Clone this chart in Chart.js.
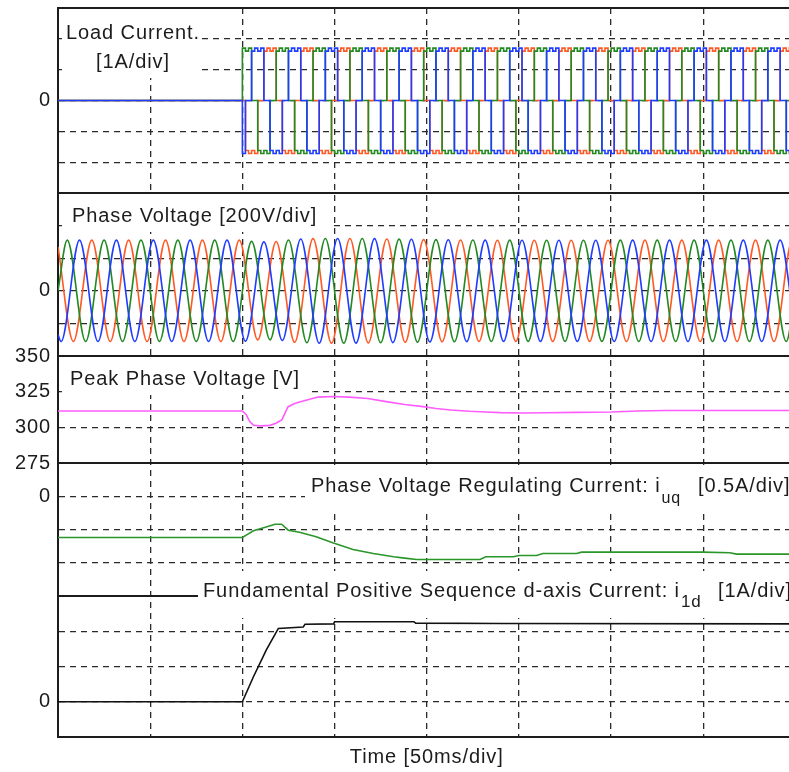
<!DOCTYPE html>
<html>
<head>
<meta charset="utf-8">
<script src="https://cdn.jsdelivr.net/npm/chart.js@4.4.1/dist/chart.umd.min.js"></script>
<style>
  html, body { margin: 0; padding: 0; background: #fff; overflow: hidden; }
  canvas { display: block; }
</style>
</head>
<body>
<canvas id="scope" width="800" height="772"></canvas>
<script>
const FONT = '"Liberation Sans", Arial, Helvetica, sans-serif';
const INK = '#1c1c1c';
const BLUE = '#1f3cff', GREEN = '#238a23', ORANGE = '#ff5a26';
const MAGENTA = '#ff5cff', REG_GREEN = '#2a962a';

// evenly spaced sample instants in ms
const instants = (start, step, count) =>
  Array.from({length: count}, (_, k) => Math.round((start + k * step) * 100) / 100);

// ---- load current [A]: one value per 30 degree step, load switched on at 100 ms
const loadTime = [0, 100, ...instants(101.67, 5 / 3, 180)];
const loadCurA = [
  0, 1.7,
  1.6, 1.7, 0, 0, -1.62, -1.72, -1.62, -1.72, 0, 0, 1.6, 1.7,
  1.6, 1.7, 0, 0, -1.62, -1.72, -1.62, -1.72, 0, 0, 1.6, 1.7,
  1.6, 1.7, 0, 0, -1.62, -1.72, -1.62, -1.72, 0, 0, 1.6, 1.7,
  1.6, 1.7, 0, 0, -1.62, -1.72, -1.62, -1.72, 0, 0, 1.6, 1.7,
  1.6, 1.7, 0, 0, -1.62, -1.72, -1.62, -1.72, 0, 0, 1.6, 1.7,
  1.6, 1.7, 0, 0, -1.62, -1.72, -1.62, -1.72, 0, 0, 1.6, 1.7,
  1.6, 1.7, 0, 0, -1.62, -1.72, -1.62, -1.72, 0, 0, 1.6, 1.7,
  1.6, 1.7, 0, 0, -1.62, -1.72, -1.62, -1.72, 0, 0, 1.6, 1.7,
  1.6, 1.7, 0, 0, -1.62, -1.72, -1.62, -1.72, 0, 0, 1.6, 1.7,
  1.6, 1.7, 0, 0, -1.62, -1.72, -1.62, -1.72, 0, 0, 1.6, 1.7,
  1.6, 1.7, 0, 0, -1.62, -1.72, -1.62, -1.72, 0, 0, 1.6, 1.7,
  1.6, 1.7, 0, 0, -1.62, -1.72, -1.62, -1.72, 0, 0, 1.6, 1.7,
  1.6, 1.7, 0, 0, -1.62, -1.72, -1.62, -1.72, 0, 0, 1.6, 1.7,
  1.6, 1.7, 0, 0, -1.62, -1.72, -1.62, -1.72, 0, 0, 1.6, 1.7,
  1.6, 1.7, 0, 0, -1.62, -1.72, -1.62, -1.72, 0, 0, 1.6, 1.7
];
const loadCurB = [
  0, -1.72,
  0, 0, 1.6, 1.7, 1.6, 1.7, 0, 0, -1.62, -1.72, -1.62, -1.72,
  0, 0, 1.6, 1.7, 1.6, 1.7, 0, 0, -1.62, -1.72, -1.62, -1.72,
  0, 0, 1.6, 1.7, 1.6, 1.7, 0, 0, -1.62, -1.72, -1.62, -1.72,
  0, 0, 1.6, 1.7, 1.6, 1.7, 0, 0, -1.62, -1.72, -1.62, -1.72,
  0, 0, 1.6, 1.7, 1.6, 1.7, 0, 0, -1.62, -1.72, -1.62, -1.72,
  0, 0, 1.6, 1.7, 1.6, 1.7, 0, 0, -1.62, -1.72, -1.62, -1.72,
  0, 0, 1.6, 1.7, 1.6, 1.7, 0, 0, -1.62, -1.72, -1.62, -1.72,
  0, 0, 1.6, 1.7, 1.6, 1.7, 0, 0, -1.62, -1.72, -1.62, -1.72,
  0, 0, 1.6, 1.7, 1.6, 1.7, 0, 0, -1.62, -1.72, -1.62, -1.72,
  0, 0, 1.6, 1.7, 1.6, 1.7, 0, 0, -1.62, -1.72, -1.62, -1.72,
  0, 0, 1.6, 1.7, 1.6, 1.7, 0, 0, -1.62, -1.72, -1.62, -1.72,
  0, 0, 1.6, 1.7, 1.6, 1.7, 0, 0, -1.62, -1.72, -1.62, -1.72,
  0, 0, 1.6, 1.7, 1.6, 1.7, 0, 0, -1.62, -1.72, -1.62, -1.72,
  0, 0, 1.6, 1.7, 1.6, 1.7, 0, 0, -1.62, -1.72, -1.62, -1.72,
  0, 0, 1.6, 1.7, 1.6, 1.7, 0, 0, -1.62, -1.72, -1.62, -1.72
];
const loadCurC = [
  0, 0,
  -1.62, -1.72, -1.62, -1.72, 0, 0, 1.6, 1.7, 1.6, 1.7, 0, 0,
  -1.62, -1.72, -1.62, -1.72, 0, 0, 1.6, 1.7, 1.6, 1.7, 0, 0,
  -1.62, -1.72, -1.62, -1.72, 0, 0, 1.6, 1.7, 1.6, 1.7, 0, 0,
  -1.62, -1.72, -1.62, -1.72, 0, 0, 1.6, 1.7, 1.6, 1.7, 0, 0,
  -1.62, -1.72, -1.62, -1.72, 0, 0, 1.6, 1.7, 1.6, 1.7, 0, 0,
  -1.62, -1.72, -1.62, -1.72, 0, 0, 1.6, 1.7, 1.6, 1.7, 0, 0,
  -1.62, -1.72, -1.62, -1.72, 0, 0, 1.6, 1.7, 1.6, 1.7, 0, 0,
  -1.62, -1.72, -1.62, -1.72, 0, 0, 1.6, 1.7, 1.6, 1.7, 0, 0,
  -1.62, -1.72, -1.62, -1.72, 0, 0, 1.6, 1.7, 1.6, 1.7, 0, 0,
  -1.62, -1.72, -1.62, -1.72, 0, 0, 1.6, 1.7, 1.6, 1.7, 0, 0,
  -1.62, -1.72, -1.62, -1.72, 0, 0, 1.6, 1.7, 1.6, 1.7, 0, 0,
  -1.62, -1.72, -1.62, -1.72, 0, 0, 1.6, 1.7, 1.6, 1.7, 0, 0,
  -1.62, -1.72, -1.62, -1.72, 0, 0, 1.6, 1.7, 1.6, 1.7, 0, 0,
  -1.62, -1.72, -1.62, -1.72, 0, 0, 1.6, 1.7, 1.6, 1.7, 0, 0,
  -1.62, -1.72, -1.62, -1.72, 0, 0, 1.6, 1.7, 1.6, 1.7, 0, 0
];

// ---- phase voltage [V]: crest values of each half cycle, 50 Hz
const voltTimeA = [0, ...instants(5, 10, 40), 400];
const voltTimeB = [0, ...instants(1.67, 10, 40), 400];
const voltTimeC = [0, ...instants(8.33, 10, 40), 400];
const voltA = [
  0,
  311, -311, 311, -311, 311, -311, 311, -311, 311, -311,
  303, -301, 312, -319, 321, -321, 321, -319, 317, -315,
  314, -313, 312, -311, 311, -310, 310, -310, 310, -310,
  311, -311, 311, -311, 311, -311, 311, -311, 311, -311,
  0
];
const voltB = [
  -269,
  -311, 311, -311, 311, -311, 311, -311, 311, -311, 311,
  -309, 300, -305, 318, -321, 321, -321, 320, -318, 316,
  -314, 313, -312, 311, -310, 310, -310, 310, -310, 310,
  -311, 311, -311, 311, -311, 311, -311, 311, -311, 311,
  -269
];
const voltC = [
  269,
  -311, 311, -311, 311, -311, 311, -311, 311, -311, 311,
  -301, 302, -316, 320, -321, 321, -320, 318, -316, 314,
  -313, 312, -311, 310, -310, 310, -310, 310, -310, 310,
  -311, 311, -311, 311, -311, 311, -311, 311, -311, 311,
  269
];

// ---- peak phase voltage [V]
const peakTime = [0, 100, 102, 104, 106, 110, 115, 118.5, 121.5, 123, 124.7, 128, 131, 136, 141,
                  149, 158, 168, 178, 188, 198, 205, 213, 223, 232, 240, 252, 265, 281, 300, 314, 330, 360, 400];
const peakVolt = [311.5, 311.5, 309, 304, 301.5, 301, 301.4, 303, 305.4, 309.6, 314.3, 316.5, 317.8, 319.5, 321.2,
                  321.6, 321.2, 320.2, 318, 316, 314.5, 313.2, 312.2, 311.3, 310.8, 310.3, 310, 310.2, 310.5, 310.8, 311.5, 311.8, 311.8, 311.8];

// ---- phase voltage regulating current i_uq [A]
const iuqTime = [0, 100, 103, 106, 112, 117.7, 121.3, 124.9, 131, 140, 149, 160, 171, 182, 188, 194.5,
                 228.9, 232, 247, 250, 259.6, 263, 281.3, 284, 349.8, 364.4, 368, 400];
const iuqVal = [-0.62, -0.62, -0.57, -0.52, -0.47, -0.42, -0.42, -0.51, -0.54, -0.61, -0.70, -0.80, -0.86, -0.91, -0.93, -0.95,
                -0.95, -0.91, -0.91, -0.89, -0.89, -0.86, -0.86, -0.84, -0.84, -0.85, -0.87, -0.87];

// ---- fundamental positive sequence d-axis current i_1d [A]
const i1dTime = [0, 100, 106, 113, 119.5, 133, 134, 149.5, 150, 193, 194, 240, 400];
const i1dVal = [0, 0, 0.71, 1.47, 2.08, 2.12, 2.2, 2.21, 2.27, 2.27, 2.23, 2.22, 2.21];

// tick labels shown on each panel
const zeroOnly = [0];
const peakTicks = [275, 300, 325, 350];

const PANELS = ['yLoad', 'yPhase', 'yPeak', 'yReg', 'yD'];

const pts = (t, v) => t.map((x, i) => ({x, y: v[i]}));
const trace = (axis, t, v, color, extra) => Object.assign({
  data: pts(t, v), yAxisID: axis, borderColor: color, borderWidth: 1.6,
  pointRadius: 0, fill: false, tension: 0
}, extra || {});

function panelAxis(min, max, step, labelled, order, height) {
  return {
    type: 'linear', position: 'left', stack: 'panels', stackWeight: height, weight: order,
    min: min, max: max,
    ticks: {
      stepSize: step, autoSkip: false, padding: 7, color: INK,
      font: {family: FONT, size: 20},
      callback: v => labelled.includes(v) ? String(v) : ''
    },
    grid: {color: '#2a2a2a', lineWidth: 1.3, drawTicks: false},
    border: {display: true, color: INK, width: 2, dash: [6, 5]},
    afterFit(s) { s.width = 58; s.paddingTop = 0; s.paddingBottom = 0; }
  };
}

// white-backed captions, offsets from the plot's left edge and the panel's top
const captions = [
  {axis: 'yLoad', box: [4, 1, 138, 69], parts: [
    {text: 'Load Current.', x: 75, y: 31, align: 'center'},
    {text: '[1A/div]', x: 75, y: 60, align: 'center'}]},
  {axis: 'yPhase', box: [4, 2, 272, 37], parts: [
    {text: 'Phase Voltage [200V/div]', x: 14, y: 29}]},
  {axis: 'yPeak', box: [4, 2, 250, 37], parts: [
    {text: 'Peak Phase Voltage [V]', x: 12, y: 29}]},
  {axis: 'yReg', box: [247, 2, 500, 45], parts: [
    {text: 'Phase Voltage Regulating Current: i', x: 253, y: 29},
    {text: 'uq', x: 'flow', y: 40, size: 16},
    {text: '[0.5A/div]', x: 640, y: 29}]},
  {axis: 'yD', box: [140, -25, 660, 47], parts: [
    {text: 'Fundamental Positive Sequence d-axis Current: i', x: 145, y: 1},
    {text: '1d', x: 'flow', y: 11, size: 17},
    {text: '[1A/div]', x: 660, y: 1}]}
];

const panelDecor = {
  id: 'panelDecor',
  beforeDraw(chart) {
    chart.ctx.letterSpacing = '0.9px';
  },
  beforeDatasetsDraw(chart) {
    const {ctx, chartArea: area, scales} = chart;
    ctx.save();
    ctx.setLineDash([]);
    ctx.strokeStyle = INK;
    ctx.lineWidth = 2;
    ctx.beginPath();
    PANELS.forEach(id => {
      const y = Math.round(scales[id].top);
      ctx.moveTo(area.left, y);
      ctx.lineTo(area.right, y);
    });
    ctx.stroke();

    captions.forEach(c => {
      const top = scales[c.axis].top;
      const left = area.left;
      ctx.fillStyle = '#fff';
      ctx.fillRect(left + c.box[0], top + c.box[1], c.box[2], c.box[3]);
      ctx.fillStyle = INK;
      ctx.textBaseline = 'alphabetic';
      let flowX = left;
      c.parts.forEach(p => {
        ctx.font = (p.size || 20) + 'px ' + FONT;
        ctx.textAlign = p.align || 'left';
        const x = p.x === 'flow' ? flowX : left + p.x;
        ctx.fillText(p.text, x, top + p.y);
        flowX = x + ctx.measureText(p.text).width + 1;
      });
    });
    ctx.restore();
  }
};

new Chart(document.getElementById('scope'), {
  type: 'line',
  data: {
    datasets: [
      trace('yLoad', loadTime, loadCurB, BLUE, {stepped: true}),
      trace('yLoad', loadTime, loadCurA, GREEN, {stepped: true}),
      trace('yLoad', loadTime, loadCurC, ORANGE, {stepped: true}),
      trace('yPhase', voltTimeB, voltB, BLUE, {cubicInterpolationMode: 'monotone'}),
      trace('yPhase', voltTimeA, voltA, GREEN, {cubicInterpolationMode: 'monotone'}),
      trace('yPhase', voltTimeC, voltC, ORANGE, {cubicInterpolationMode: 'monotone'}),
      trace('yPeak', peakTime, peakVolt, MAGENTA),
      trace('yReg', iuqTime, iuqVal, REG_GREEN),
      trace('yD', i1dTime, i1dVal, '#111')
    ]
  },
  options: {
    responsive: false,
    animation: false,
    devicePixelRatio: 1,
    events: [],
    layout: {padding: {top: 8, right: 4.5, bottom: 0, left: 0}},
    plugins: {legend: {display: false}, tooltip: {enabled: false}},
    scales: {
      x: {
        type: 'linear', position: 'bottom', min: 0, max: 400,
        ticks: {display: false, stepSize: 50},
        grid: {color: '#2a2a2a', lineWidth: 1.3, drawTicks: false},
        border: {display: true, color: INK, width: 2, dash: [6, 5]},
        title: {display: true, text: 'Time [50ms/div]', color: INK,
                font: {family: FONT, size: 20}, padding: {top: 0, bottom: 2.5}},
        afterFit(s) { s.height = 35; s.paddingLeft = 0; s.paddingRight = 0; }
      },
      yLoad: panelAxis(-3, 3, 1, zeroOnly, 5, 185),
      yPhase: panelAxis(-400, 600, 200, zeroOnly, 4, 163),
      yPeak: panelAxis(275, 350, 25, peakTicks, 3, 107),
      yReg: panelAxis(-1.5, 0.5, 0.5, zeroOnly, 2, 133),
      yD: panelAxis(-1, 3, 1, zeroOnly, 1, 141)
    }
  },
  plugins: [panelDecor]
});
</script>
</body>
</html>
